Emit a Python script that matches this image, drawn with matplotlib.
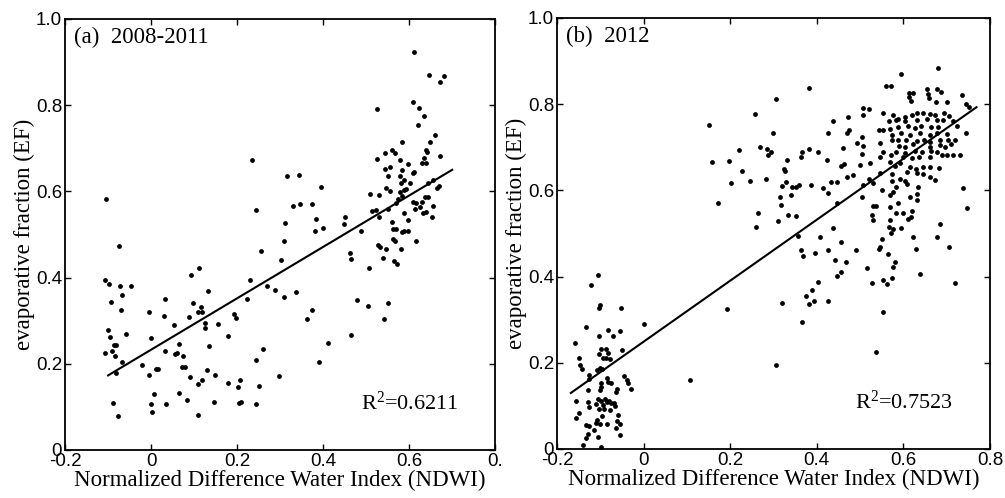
import matplotlib
matplotlib.use("Agg")
import matplotlib.pyplot as plt
import numpy as np

SERIF = "Liberation Serif"
SANS = "Liberation Sans"

plt.rcParams["mathtext.fontset"] = "custom"
plt.rcParams["mathtext.rm"] = SERIF
plt.rcParams["mathtext.it"] = SERIF + ":italic"

# axis ticks / labels
xticks = [-0.2, 0.0, 0.2, 0.4, 0.6, 0.8]
xtick_labels_a = ["-0.2", "0", "0.2", "0.4", "0.6", "0."]
xtick_labels_b = ["-0.2", "0", "0.2", "0.4", "0.6", "0.8"]
yticks = [0.0, 0.2, 0.4, 0.6, 0.8, 1.0]
ytick_labels = ["0", "0.2", "0.4", "0.6", "0.8", "1.0"]

titles = ["(a)  2008-2011", "(b)  2012"]
r2_values = ["0.6211", "0.7523"]

# (NDWI, EF)
points_a = np.array([
    (-0.105, 0.582), (-0.075, 0.474), (-0.107, 0.394), (-0.097, 0.384), (-0.073, 0.381),
    (-0.047, 0.381), (-0.068, 0.360), (-0.093, 0.343), (-0.071, 0.324), (-0.100, 0.279),
    (-0.096, 0.261), (-0.059, 0.270), (-0.085, 0.244), (-0.082, 0.243), (-0.091, 0.230),
    (-0.107, 0.224), (-0.083, 0.218), (-0.068, 0.205), (-0.081, 0.179), (-0.089, 0.108),
    (-0.077, 0.079), (-0.005, 0.319), (0.000, 0.259), (-0.022, 0.197), (-0.005, 0.173),
    (0.011, 0.189), (0.017, 0.189), (0.006, 0.129), (-0.001, 0.107), (0.003, 0.087),
    (0.032, 0.350), (0.030, 0.312), (0.032, 0.230), (0.034, 0.107), (0.053, 0.290),
    (0.064, 0.247), (0.055, 0.222), (0.060, 0.224), (0.074, 0.217), (0.073, 0.192),
    (0.080, 0.193), (0.064, 0.132), (0.084, 0.116), (0.090, 0.169), (0.093, 0.405),
    (0.111, 0.423), (0.097, 0.340), (0.089, 0.309), (0.108, 0.321), (0.117, 0.332),
    (0.119, 0.321), (0.132, 0.368), (0.126, 0.294), (0.126, 0.284), (0.155, 0.292),
    (0.135, 0.242), (0.129, 0.186), (0.118, 0.162), (0.108, 0.152), (0.109, 0.082),
    (0.148, 0.174), (0.146, 0.111), (0.179, 0.265), (0.193, 0.315), (0.197, 0.307),
    (0.179, 0.156), (0.201, 0.147), (0.206, 0.163), (0.205, 0.108), (0.209, 0.111),
    (0.223, 0.351), (0.231, 0.395), (0.245, 0.556), (0.256, 0.461), (0.245, 0.208),
    (0.261, 0.234), (0.250, 0.148), (0.245, 0.106), (0.269, 0.381), (0.288, 0.371),
    (0.303, 0.440), (0.309, 0.486), (0.311, 0.526), (0.330, 0.567), (0.309, 0.355),
    (0.298, 0.171), (0.336, 0.367), (0.235, 0.673),
    (0.612, 0.924), (0.647, 0.870), (0.682, 0.867), (0.672, 0.853), (0.526, 0.792),
    (0.610, 0.807), (0.623, 0.793), (0.634, 0.775), (0.621, 0.755), (0.660, 0.731),
    (0.648, 0.714), (0.583, 0.714), (0.560, 0.697), (0.568, 0.688), (0.543, 0.688),
    (0.526, 0.674), (0.578, 0.673), (0.640, 0.697), (0.641, 0.691), (0.672, 0.683),
    (0.634, 0.677), (0.631, 0.665), (0.639, 0.665), (0.543, 0.653), (0.556, 0.656),
    (0.583, 0.650), (0.597, 0.663), (0.608, 0.642), (0.612, 0.644), (0.551, 0.636),
    (0.579, 0.636), (0.587, 0.627), (0.580, 0.619), (0.602, 0.619), (0.644, 0.619),
    (0.655, 0.626), (0.665, 0.609), (0.670, 0.612), (0.546, 0.608), (0.556, 0.602),
    (0.587, 0.603), (0.593, 0.605), (0.579, 0.598), (0.583, 0.590), (0.510, 0.594),
    (0.529, 0.591), (0.573, 0.583), (0.569, 0.574), (0.610, 0.575), (0.616, 0.572),
    (0.629, 0.575), (0.637, 0.586), (0.643, 0.588), (0.656, 0.567), (0.614, 0.559),
    (0.626, 0.563), (0.632, 0.551), (0.640, 0.552), (0.653, 0.540), (0.514, 0.555),
    (0.524, 0.557), (0.530, 0.541), (0.550, 0.558), (0.587, 0.549), (0.597, 0.534),
    (0.450, 0.541), (0.448, 0.524), (0.560, 0.529), (0.562, 0.513), (0.569, 0.513),
    (0.489, 0.507), (0.583, 0.505), (0.589, 0.507), (0.597, 0.508), (0.563, 0.490),
    (0.566, 0.486), (0.615, 0.486), (0.528, 0.475), (0.532, 0.470), (0.546, 0.466),
    (0.580, 0.466), (0.463, 0.457), (0.464, 0.442), (0.539, 0.445), (0.564, 0.439),
    (0.572, 0.431), (0.507, 0.422), (0.316, 0.636), (0.345, 0.639), (0.394, 0.610),
    (0.346, 0.570), (0.374, 0.571), (0.383, 0.537), (0.382, 0.509), (0.400, 0.514),
    (0.374, 0.325), (0.363, 0.303), (0.478, 0.347), (0.505, 0.334), (0.552, 0.341),
    (0.542, 0.303), (0.464, 0.266), (0.411, 0.248), (0.390, 0.204),
])

# (NDWI, EF)
points_b = np.array([
    (-0.105, 0.404), (-0.121, 0.380), (-0.101, 0.334), (-0.102, 0.326), (-0.051, 0.326),
    (-0.134, 0.284), (-0.081, 0.277), (-0.054, 0.274), (-0.102, 0.263), (-0.071, 0.263),
    (0.002, 0.289), (-0.158, 0.245), (-0.099, 0.233), (-0.087, 0.232), (-0.049, 0.229),
    (-0.104, 0.220), (-0.083, 0.222), (-0.094, 0.212), (-0.087, 0.210), (-0.078, 0.209),
    (-0.149, 0.212), (-0.146, 0.195), (-0.142, 0.186), (-0.100, 0.188), (-0.107, 0.184),
    (-0.095, 0.186), (-0.125, 0.171), (-0.127, 0.163), (-0.046, 0.170), (-0.039, 0.161),
    (-0.037, 0.154), (-0.029, 0.140), (-0.085, 0.164), (-0.081, 0.156), (-0.075, 0.154),
    (-0.098, 0.152), (-0.099, 0.144), (-0.101, 0.138), (-0.061, 0.140), (-0.064, 0.133),
    (-0.128, 0.138), (0.108, 0.160), (-0.155, 0.111), (-0.129, 0.108), (-0.125, 0.098),
    (-0.105, 0.117), (-0.099, 0.111), (-0.088, 0.117), (-0.085, 0.109), (-0.079, 0.112),
    (-0.075, 0.106), (-0.068, 0.107), (-0.065, 0.100), (-0.093, 0.102), (-0.102, 0.093),
    (-0.110, 0.104), (-0.091, 0.092), (-0.077, 0.090), (-0.058, 0.080), (-0.148, 0.083),
    (-0.155, 0.073), (-0.097, 0.077), (-0.107, 0.067), (-0.111, 0.061), (-0.101, 0.059),
    (-0.085, 0.058), (-0.061, 0.065), (-0.055, 0.059), (-0.133, 0.055), (-0.125, 0.053),
    (-0.063, 0.048), (-0.115, 0.044), (-0.128, 0.034), (-0.132, 0.026), (-0.105, 0.028),
    (-0.055, 0.032), (-0.140, 0.009), (-0.099, 0.004),
    (0.383, 0.838), (0.306, 0.813), (0.257, 0.777), (0.152, 0.751), (0.300, 0.732),
    (0.426, 0.732), (0.269, 0.701), (0.221, 0.693), (0.286, 0.697), (0.294, 0.688),
    (0.288, 0.682), (0.381, 0.696), (0.367, 0.688), (0.364, 0.678), (0.404, 0.689),
    (0.424, 0.671), (0.159, 0.667), (0.197, 0.669), (0.332, 0.671), (0.324, 0.650),
    (0.327, 0.645), (0.228, 0.644), (0.246, 0.621), (0.283, 0.627), (0.201, 0.616),
    (0.330, 0.619), (0.320, 0.611), (0.343, 0.609), (0.351, 0.607), (0.360, 0.612),
    (0.387, 0.612), (0.414, 0.605), (0.427, 0.595), (0.341, 0.590), (0.314, 0.585),
    (0.173, 0.571), (0.317, 0.565), (0.265, 0.547), (0.334, 0.544), (0.351, 0.541),
    (0.310, 0.530), (0.259, 0.516), (0.357, 0.494), (0.407, 0.491), (0.364, 0.462),
    (0.368, 0.447), (0.396, 0.455), (0.426, 0.461), (0.404, 0.387), (0.388, 0.369),
    (0.376, 0.354), (0.382, 0.337), (0.393, 0.343), (0.427, 0.343), (0.319, 0.338),
    (0.192, 0.325), (0.366, 0.295), (0.305, 0.196),
    (0.681, 0.883), (0.594, 0.871), (0.561, 0.843), (0.571, 0.843), (0.612, 0.827),
    (0.623, 0.827), (0.655, 0.835), (0.658, 0.824), (0.678, 0.835), (0.686, 0.829),
    (0.735, 0.821), (0.612, 0.816), (0.618, 0.808), (0.660, 0.814), (0.675, 0.804),
    (0.700, 0.805), (0.745, 0.801), (0.751, 0.793), (0.507, 0.791), (0.521, 0.788),
    (0.507, 0.774), (0.554, 0.779), (0.577, 0.775), (0.588, 0.766), (0.604, 0.771),
    (0.619, 0.775), (0.632, 0.779), (0.645, 0.780), (0.661, 0.777), (0.674, 0.775),
    (0.694, 0.779), (0.705, 0.773), (0.473, 0.771), (0.438, 0.760), (0.566, 0.760),
    (0.583, 0.763), (0.604, 0.760), (0.632, 0.763), (0.654, 0.765), (0.677, 0.763),
    (0.692, 0.763), (0.715, 0.762), (0.554, 0.740), (0.569, 0.742), (0.588, 0.746),
    (0.611, 0.749), (0.627, 0.744), (0.640, 0.749), (0.665, 0.746), (0.681, 0.748),
    (0.725, 0.749), (0.475, 0.739), (0.471, 0.732), (0.543, 0.740), (0.574, 0.729),
    (0.594, 0.732), (0.615, 0.729), (0.638, 0.732), (0.661, 0.729), (0.677, 0.732),
    (0.701, 0.731), (0.745, 0.732), (0.504, 0.723), (0.492, 0.709), (0.507, 0.703),
    (0.546, 0.711), (0.573, 0.717), (0.588, 0.717), (0.607, 0.718), (0.631, 0.715),
    (0.648, 0.717), (0.661, 0.713), (0.685, 0.717), (0.704, 0.718), (0.719, 0.718),
    (0.591, 0.703), (0.604, 0.701), (0.623, 0.708), (0.661, 0.701), (0.685, 0.705),
    (0.696, 0.701), (0.709, 0.708), (0.461, 0.698), (0.552, 0.690), (0.571, 0.682),
    (0.584, 0.690), (0.604, 0.686), (0.627, 0.692), (0.642, 0.690), (0.665, 0.692),
    (0.677, 0.688), (0.689, 0.682), (0.701, 0.682), (0.714, 0.682), (0.732, 0.682),
    (0.505, 0.684), (0.546, 0.678), (0.569, 0.667), (0.600, 0.678), (0.619, 0.674),
    (0.637, 0.677), (0.661, 0.678), (0.463, 0.661), (0.457, 0.657), (0.500, 0.659),
    (0.523, 0.664), (0.581, 0.657), (0.592, 0.663), (0.615, 0.655), (0.629, 0.649),
    (0.646, 0.655), (0.661, 0.655), (0.683, 0.651), (0.483, 0.636), (0.470, 0.632),
    (0.546, 0.640), (0.573, 0.637), (0.608, 0.643), (0.632, 0.640), (0.646, 0.638),
    (0.661, 0.632), (0.673, 0.624), (0.434, 0.620), (0.447, 0.619), (0.521, 0.626),
    (0.529, 0.616), (0.573, 0.622), (0.592, 0.626), (0.604, 0.622), (0.609, 0.615),
    (0.507, 0.612), (0.584, 0.609), (0.634, 0.607), (0.737, 0.605), (0.550, 0.602),
    (0.577, 0.597), (0.569, 0.589), (0.632, 0.592), (0.615, 0.584), (0.504, 0.584),
    (0.632, 0.578), (0.446, 0.571), (0.529, 0.564), (0.537, 0.564), (0.569, 0.562),
    (0.588, 0.571), (0.746, 0.560), (0.527, 0.543), (0.583, 0.548), (0.600, 0.548),
    (0.621, 0.553), (0.618, 0.539), (0.611, 0.533), (0.531, 0.531), (0.569, 0.531),
    (0.685, 0.523), (0.438, 0.512), (0.566, 0.514), (0.575, 0.510), (0.594, 0.512),
    (0.571, 0.500), (0.623, 0.492), (0.677, 0.492), (0.550, 0.487), (0.457, 0.481),
    (0.546, 0.469), (0.544, 0.463), (0.629, 0.465), (0.706, 0.469), (0.491, 0.462),
    (0.565, 0.452), (0.442, 0.438), (0.467, 0.434), (0.581, 0.434), (0.575, 0.423),
    (0.517, 0.421), (0.457, 0.411), (0.446, 0.401), (0.638, 0.407), (0.553, 0.393),
    (0.573, 0.396), (0.563, 0.382), (0.527, 0.384), (0.720, 0.386), (0.554, 0.318),
    (0.538, 0.224),
])

# regression lines as drawn in the figure (end points)
fit_a_x = [-0.100, 0.700]
fit_a_y = [0.173, 0.650]
fit_b_x = [-0.168, 0.769]
fit_b_y = [0.130, 0.793]

fig = plt.figure(figsize=(10.05, 4.98), dpi=100)
ax_a = fig.add_axes([0.0647, 0.0964, 0.428, 0.8655])
ax_b = fig.add_axes([0.5542, 0.0984, 0.4308, 0.8655])

panels = [
    (ax_a, points_a, fit_a_x, fit_a_y, xtick_labels_a),
    (ax_b, points_b, fit_b_x, fit_b_y, xtick_labels_b),
]

for i, (ax, pts, fx, fy, xlabels) in enumerate(panels):
    ax.scatter(pts[:, 0], pts[:, 1], s=12, c="black", linewidths=0, zorder=3)
    ax.plot(fx, fy, color="black", lw=1.5, zorder=4)

    ax.set_xlim(-0.2, 0.8)
    ax.set_ylim(0, 1.0)
    ax.set_xticks(xticks)
    ax.set_xticklabels(xlabels, fontfamily=SANS, fontsize=13.5)
    ax.set_yticks(yticks)
    ax.set_yticklabels(ytick_labels, fontfamily=SANS, fontsize=13.5)
    ax.tick_params(direction="in", top=True, right=True, length=4, width=1,
                   pad=2)
    for sp in ax.spines.values():
        sp.set_linewidth(1.3)

    ax.set_xlabel("Normalized Difference Water Index (NDWI)",
                  fontfamily=SERIF, fontsize=16.5, labelpad=0)
    ax.set_ylabel("evaporative fraction (EF)", fontfamily=SERIF,
                  fontsize=16.5, labelpad=1)

    ax.text(0.022, 0.958, titles[i], transform=ax.transAxes,
            fontfamily=SERIF, fontsize=16.5, va="center", ha="left")
    ax.text(0.488, 0.094, r"R$^{2}$=" + r2_values[i], fontfamily=SERIF,
            fontsize=16, va="baseline", ha="left")

fig.savefig("out.png", dpi=100)
